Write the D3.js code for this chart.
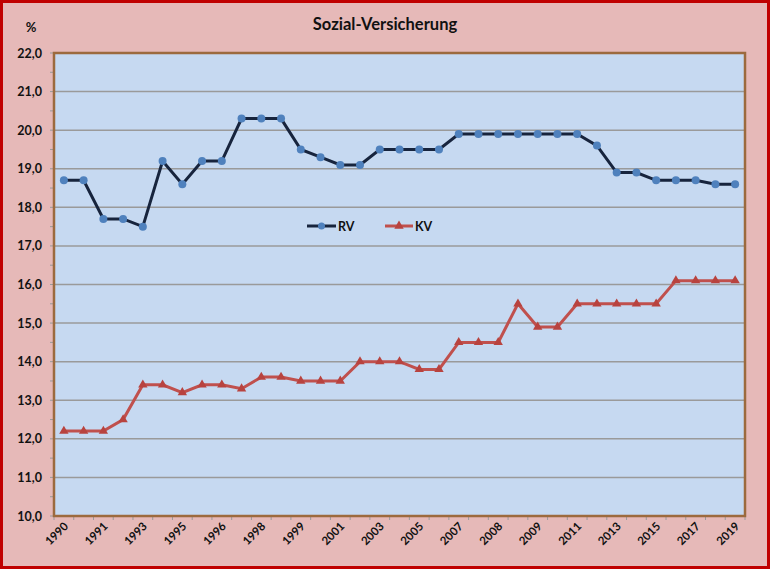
<!DOCTYPE html>
<html>
<head>
<meta charset="utf-8">
<script src="https://cdn.jsdelivr.net/npm/d3@7"></script>
<style>
  body { margin: 0; background: #fff; }
  text { font-family: Lato, "Open Sans", sans-serif; font-weight: bold; fill: #111; }
</style>
</head>
<body>
<svg id="chart"></svg>
<script>
// categories (Excel category axis, only every 2nd label shown)
const years = [
  "1990", "1990", "1991", "1992", "1993", "1994", "1995", "1995", "1996", "1997",
  "1998", "1998", "1999", "2000", "2001", "2002", "2003", "2004", "2005", "2006",
  "2007", "2007", "2008", "2008", "2009", "2010", "2011", "2012", "2013", "2014",
  "2015", "2016", "2017", "2018", "2019"
];
const rvValues = [
  18.7, 18.7, 17.7, 17.7, 17.5, 19.2, 18.6, 19.2, 19.2, 20.3,
  20.3, 20.3, 19.5, 19.3, 19.1, 19.1, 19.5, 19.5, 19.5, 19.5,
  19.9, 19.9, 19.9, 19.9, 19.9, 19.9, 19.9, 19.6, 18.9, 18.9,
  18.7, 18.7, 18.7, 18.6, 18.6
];
const kvValues = [
  12.2, 12.2, 12.2, 12.5, 13.4, 13.4, 13.2, 13.4, 13.4, 13.3,
  13.6, 13.6, 13.5, 13.5, 13.5, 14.0, 14.0, 14.0, 13.8, 13.8,
  14.5, 14.5, 14.5, 15.5, 14.9, 14.9, 15.5, 15.5, 15.5, 15.5,
  15.5, 16.1, 16.1, 16.1, 16.1
];
const yTicks = [10, 11, 12, 13, 14, 15, 16, 17, 18, 19, 20, 21, 22];

const width = 770;
const height = 569;
const plot = { left: 54, right: 745, top: 53, bottom: 516 };

const svg = d3.select("#chart").attr("width", width).attr("height", height);

// chart background with red frame
svg.append("rect")
  .attr("x", 1.5).attr("y", 1.5)
  .attr("width", width - 3).attr("height", height - 3)
  .attr("fill", "#E6B9B8")
  .attr("stroke", "#C00000")
  .attr("stroke-width", 3);

const idx = d3.range(years.length);
const x = d3.scalePoint().domain(idx).range([plot.left, plot.right]).padding(0.5);
const y = d3.scaleLinear().domain([10, 22]).range([plot.bottom, plot.top]);

// plot area
svg.append("rect")
  .attr("x", plot.left).attr("y", plot.top)
  .attr("width", plot.right - plot.left).attr("height", plot.bottom - plot.top)
  .attr("fill", "#C6D9F1");

// gridlines
svg.append("g")
  .selectAll("line")
  .data(yTicks.slice(1, -1))
  .join("line")
  .attr("x1", plot.left).attr("x2", plot.right)
  .attr("y1", (d) => y(d)).attr("y2", (d) => y(d))
  .attr("stroke", "#9A9A9A")
  .attr("stroke-width", 1.5);

// y axis minor ticks + labels
const yAxis = svg.append("g");
yAxis.selectAll("line")
  .data(d3.range(10, 22.01, 0.5))
  .join("line")
  .attr("x1", plot.left - 4).attr("x2", plot.left)
  .attr("y1", (d) => y(d)).attr("y2", (d) => y(d))
  .attr("stroke", "#9A9A9A");
yAxis.selectAll("text")
  .data(yTicks)
  .join("text")
  .attr("x", 42)
  .attr("y", (d) => y(d) + 4.5)
  .attr("text-anchor", "end")
  .attr("font-size", 12.5)
  .text((d) => d3.format(".1f")(d).replace(".", ","));

// x axis ticks between categories
const step = x.step();
svg.append("g")
  .selectAll("line")
  .data(d3.range(years.length + 1))
  .join("line")
  .attr("x1", (d) => plot.left + d * step).attr("x2", (d) => plot.left + d * step)
  .attr("y1", plot.bottom).attr("y2", plot.bottom + 4)
  .attr("stroke", "#9A9A9A");

svg.append("g")
  .selectAll("text")
  .data(idx.filter((i) => i % 2 === 0))
  .join("text")
  .attr("transform", (i) => `translate(${x(i) + 5},${plot.bottom + 11}) rotate(-45)`)
  .attr("text-anchor", "end")
  .attr("font-size", 11.5)
  .text((i) => years[i]);

// plot border
svg.append("rect")
  .attr("x", plot.left).attr("y", plot.top)
  .attr("width", plot.right - plot.left).attr("height", plot.bottom - plot.top)
  .attr("fill", "none")
  .attr("stroke", "#9C6A3E")
  .attr("stroke-width", 2.5);

const line = d3.line().x((d, i) => x(i)).y((d) => y(d));
const triangle = d3.symbol().type(d3.symbolTriangle).size(38);

// RV series
svg.append("path")
  .datum(rvValues)
  .attr("d", line)
  .attr("fill", "none")
  .attr("stroke", "#17243D")
  .attr("stroke-width", 3);
svg.append("g")
  .selectAll("circle")
  .data(rvValues)
  .join("circle")
  .attr("cx", (d, i) => x(i)).attr("cy", (d) => y(d))
  .attr("r", 4)
  .attr("fill", "#4F81BD");

// KV series
svg.append("path")
  .datum(kvValues)
  .attr("d", line)
  .attr("fill", "none")
  .attr("stroke", "#C0504D")
  .attr("stroke-width", 3);
svg.append("g")
  .selectAll("path")
  .data(kvValues)
  .join("path")
  .attr("d", triangle)
  .attr("transform", (d, i) => `translate(${x(i)},${y(d)})`)
  .attr("fill", "#B8433F");

// legend
const legend = svg.append("g");
legend.append("line")
  .attr("x1", 307).attr("x2", 336).attr("y1", 226).attr("y2", 226)
  .attr("stroke", "#17243D").attr("stroke-width", 3);
legend.append("circle").attr("cx", 321.5).attr("cy", 226).attr("r", 3.5).attr("fill", "#4F81BD");
legend.append("text").attr("x", 338).attr("y", 230.5).attr("font-size", 12.5).text("RV");
legend.append("line")
  .attr("x1", 385).attr("x2", 413).attr("y1", 226).attr("y2", 226)
  .attr("stroke", "#C0504D").attr("stroke-width", 3);
legend.append("path").attr("d", triangle).attr("transform", "translate(399,226)").attr("fill", "#B8433F");
legend.append("text").attr("x", 415).attr("y", 230.5).attr("font-size", 12.5).text("KV");

// titles
svg.append("text")
  .attr("x", 385).attr("y", 30)
  .attr("text-anchor", "middle")
  .attr("font-size", 16.5)
  .text("Sozial-Versicherung");
svg.append("text")
  .attr("x", 31).attr("y", 32)
  .attr("text-anchor", "middle")
  .attr("font-size", 13)
  .text("%");
</script>
</body>
</html>
